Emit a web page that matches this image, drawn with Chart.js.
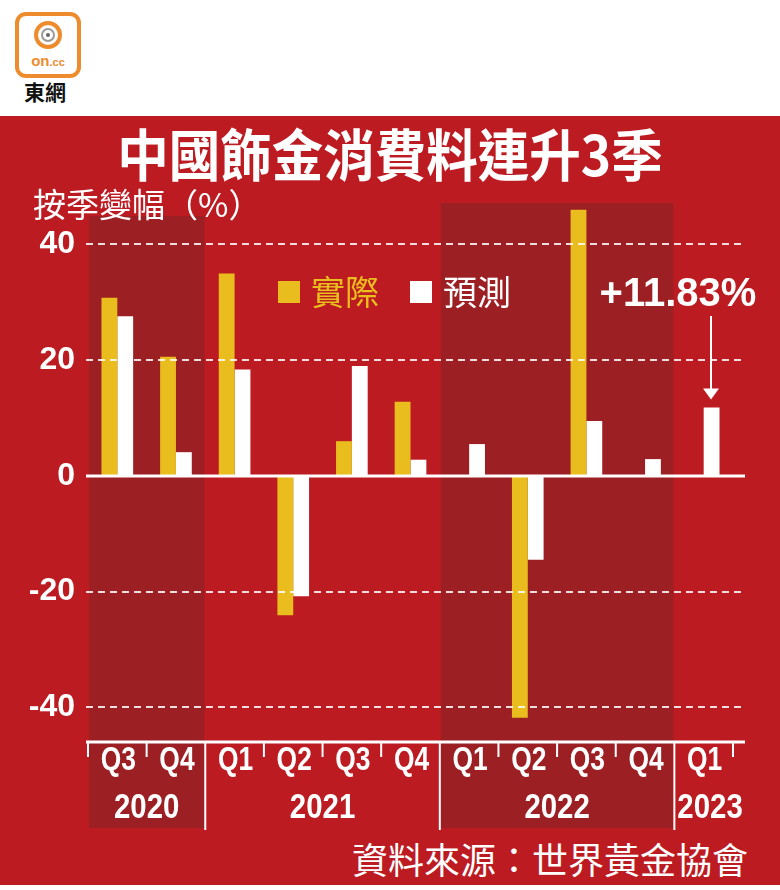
<!DOCTYPE html>
<html><head><meta charset="utf-8">
<script src="https://cdn.jsdelivr.net/npm/chart.js@4.4.0/dist/chart.umd.min.js"></script>
<style>
html,body{margin:0;padding:0;background:#fff;width:780px;height:890px;overflow:hidden;}
#bg{position:absolute;left:0;top:116px;width:780px;height:769px;background:#BD1B22;}
#title{position:absolute;left:0;top:122px;width:780px;text-align:center;color:#fff;font:bold 56px "Noto Sans CJK TC",sans-serif;line-height:60px;transform:scaleX(0.92);white-space:nowrap;}
#ylab{position:absolute;left:33px;top:187px;color:#fff;font:400 33px "Noto Sans CJK TC",sans-serif;line-height:33px;white-space:nowrap;z-index:3;}
#src{position:absolute;right:32px;top:838px;color:#fff;font:400 36px "Noto Sans CJK TC",sans-serif;line-height:40px;white-space:nowrap;}
#logo{position:absolute;left:15px;top:12px;width:58px;height:58px;border:4px solid #EE8B2C;border-radius:11px;background:#fff;}
#ring{position:absolute;left:15px;top:5px;width:20px;height:20px;border:4px solid #EE8B2C;border-radius:50%;}
#ring2{position:absolute;left:3px;top:3px;width:10px;height:10px;border:2px solid #9a9a9a;border-radius:50%;}
#dot{position:absolute;left:3px;top:3px;width:4px;height:4px;background:#666;border-radius:50%;}
#on{position:absolute;left:0;top:37px;width:58px;text-align:center;font:bold 15px "Liberation Sans",Arial,sans-serif;color:#EE8B2C;line-height:16px;}
#on span{font-size:11px;}
#dw{position:absolute;left:24px;top:79px;font:bold 21px "Noto Sans CJK TC",sans-serif;color:#111;line-height:24px;}
canvas{position:absolute;left:0;top:0;z-index:1;}
</style></head>
<body>
<div id="logo"><div id="ring"><div id="ring2"><div id="dot"></div></div></div><div id="on">on<span>.cc</span></div></div>
<div id="dw">東網</div>
<div id="bg"></div>
<div id="title">中國飾金消費料連升3季</div>
<div id="ylab">按季變幅（%）</div>
<div id="src">資料來源：世界黃金協會</div>
<canvas id="c" width="780" height="890"></canvas>
<script>
const quarters = ['Q3','Q4','Q1','Q2','Q3','Q4','Q1','Q2','Q3','Q4','Q1'];
const years = ['2020','2021','2022','2023'];
const yearSpans = [2,4,4,1];
const shadedYears = ['2020','2022'];
const seriesNames = ['實際','預測'];
const actual = [30.8, 20.6, 35.0, -24.1, 6.0, 12.8, null, -41.8, 46.0, null, null];
const forecast = [27.6, 4.1, 18.4, -20.8, 19.0, 2.8, 5.5, -14.5, 9.5, 2.9, 11.83];
const yTicks = [-40, -20, 0, 20, 40];
const calloutIndex = 10;
const calloutText = '+' + forecast[calloutIndex].toFixed(2) + '%';

const YELLOW = '#E8BD1D';
const WHITE = '#ffffff';
const BAND = '#9C1F24';

function catBounds(chart, i) {
  const x = chart.scales.x;
  const w = (x.right - x.left) / quarters.length;
  const c = x.getPixelForValue(i);
  return [c - w / 2, c + w / 2];
}

function condensedText(ctx, txt, x, y, sx, align) {
  ctx.save();
  ctx.translate(x, y);
  ctx.scale(sx, 1);
  ctx.textAlign = align;
  ctx.fillText(txt, 0, 0);
  ctx.restore();
}

const bandPlugin = {
  id: 'bands',
  beforeDraw(chart) {
    const ctx = chart.ctx, a = chart.chartArea;
    let idx = 0;
    ctx.save();
    years.forEach((y, k) => {
      const s = catBounds(chart, idx)[0];
      const e = catBounds(chart, idx + yearSpans[k] - 1)[1];
      if (shadedYears.includes(y)) {
        const top = k === 0 ? a.top + 12 : a.top - 1;
        ctx.fillStyle = BAND;
        ctx.fillRect(s + 1, top, e - s - 2, 828 - top);
      }
      idx += yearSpans[k];
    });
    ctx.restore();
  }
};

const overlayPlugin = {
  id: 'overlay',
  afterDatasetsDraw(chart) {
    const ctx = chart.ctx, a = chart.chartArea, ys = chart.scales.y, xs = chart.scales.x;
    const L = a.left - 2, R = a.right + 12;
    ctx.save();
    // dashed gridlines
    ctx.strokeStyle = 'rgba(255,255,255,0.85)';
    ctx.lineWidth = 2;
    ctx.setLineDash([7, 5]);
    yTicks.forEach(v => {
      if (v === 0) return;
      const py = Math.round(ys.getPixelForValue(v));
      ctx.beginPath(); ctx.moveTo(L, py); ctx.lineTo(R, py); ctx.stroke();
    });
    ctx.setLineDash([]);
    // zero line
    ctx.strokeStyle = WHITE; ctx.lineWidth = 3;
    const z = ys.getPixelForValue(0);
    ctx.beginPath(); ctx.moveTo(L, z); ctx.lineTo(R, z); ctx.stroke();
    // axis line
    ctx.beginPath(); ctx.moveTo(L, a.bottom); ctx.lineTo(R, a.bottom); ctx.stroke();
    // ticks and year separators
    ctx.lineWidth = 2;
    const boundaries = [];
    for (let i = 0; i < quarters.length; i++) boundaries.push(catBounds(chart, i)[0]);
    boundaries.push(catBounds(chart, quarters.length - 1)[1]);
    const yearBreaks = [];
    let acc = 0;
    yearSpans.forEach((n, k) => { acc += n; if (k < yearSpans.length - 1) yearBreaks.push(acc); });
    boundaries.forEach((bx, i) => {
      const long = yearBreaks.includes(i);
      ctx.beginPath(); ctx.moveTo(bx, a.bottom); ctx.lineTo(bx, long ? 830 : a.bottom + 15); ctx.stroke();
    });
    // quarter labels (from the x scale)
    ctx.fillStyle = WHITE;
    ctx.textBaseline = 'middle';
    ctx.font = 'bold 33px "Liberation Sans", Arial, sans-serif';
    for (let i = 0; i < quarters.length; i++) {
      condensedText(ctx, xs.getLabelForValue(i), xs.getPixelForValue(i) + 1, a.bottom + 19, 0.8, 'center');
    }
    // year labels
    ctx.font = 'bold 35px "Liberation Sans", Arial, sans-serif';
    let idx = 0;
    years.forEach((y, k) => {
      const s = catBounds(chart, idx)[0];
      const e = catBounds(chart, idx + yearSpans[k] - 1)[1];
      const tw = ctx.measureText(y).width * 0.84;
      if (tw > e - s - 4) condensedText(ctx, y, s + 3, 808, 0.84, 'left');
      else condensedText(ctx, y, (s + e) / 2, 808, 0.84, 'center');
      idx += yearSpans[k];
    });
    // legend
    const legendItems = [[seriesNames[0], YELLOW, 278], [seriesNames[1], WHITE, 410]];
    ctx.font = '400 34px "Noto Sans CJK TC", sans-serif';
    ctx.textAlign = 'left';
    legendItems.forEach(([t, col, lx]) => {
      ctx.fillStyle = col;
      ctx.fillRect(lx, 281, 22, 22);
      ctx.fillText(t, lx + 33, 292);
    });
    // callout
    const bar = chart.getDatasetMeta(1).data[calloutIndex];
    ctx.fillStyle = WHITE;
    ctx.font = 'bold 40px "Liberation Sans", Arial, sans-serif';
    ctx.textAlign = 'center';
    ctx.fillText(calloutText, 678, 295);
    const ax = Math.round(bar.x) - 1;
    const tip = bar.y - 8;
    ctx.strokeStyle = WHITE; ctx.lineWidth = 2;
    ctx.beginPath(); ctx.moveTo(ax, 316); ctx.lineTo(ax, tip - 6); ctx.stroke();
    ctx.beginPath(); ctx.moveTo(ax - 8, tip - 11); ctx.lineTo(ax + 8, tip - 11); ctx.lineTo(ax, tip); ctx.closePath(); ctx.fill();
    ctx.restore();
  }
};

new Chart(document.getElementById('c'), {
  type: 'bar',
  data: {
    labels: quarters,
    datasets: [
      { label: seriesNames[0], data: actual, backgroundColor: YELLOW, categoryPercentage: 0.54, barPercentage: 1 },
      { label: seriesNames[1], data: forecast, backgroundColor: WHITE, categoryPercentage: 0.54, barPercentage: 1 }
    ]
  },
  options: {
    responsive: false,
    animation: false,
    devicePixelRatio: 1,
    layout: { padding: { left: 0, right: 47, top: 204, bottom: 0 } },
    plugins: { legend: { display: false }, tooltip: { enabled: false } },
    scales: {
      x: {
        grid: { display: false, drawTicks: false },
        border: { display: false },
        ticks: { display: false, autoSkip: false },
        afterFit(s) { s.height = 148; }
      },
      y: {
        min: -46, max: 47,
        afterBuildTicks(s) { s.ticks = yTicks.map(v => ({ value: v })); },
        grid: { display: false, drawTicks: false },
        border: { display: false },
        ticks: { color: WHITE, font: { family: '"Liberation Sans", Arial', weight: 'bold', size: 32 }, padding: 13 },
        afterFit(s) { s.width = 88; }
      }
    }
  },
  plugins: [bandPlugin, overlayPlugin]
});
</script>
</body></html>
